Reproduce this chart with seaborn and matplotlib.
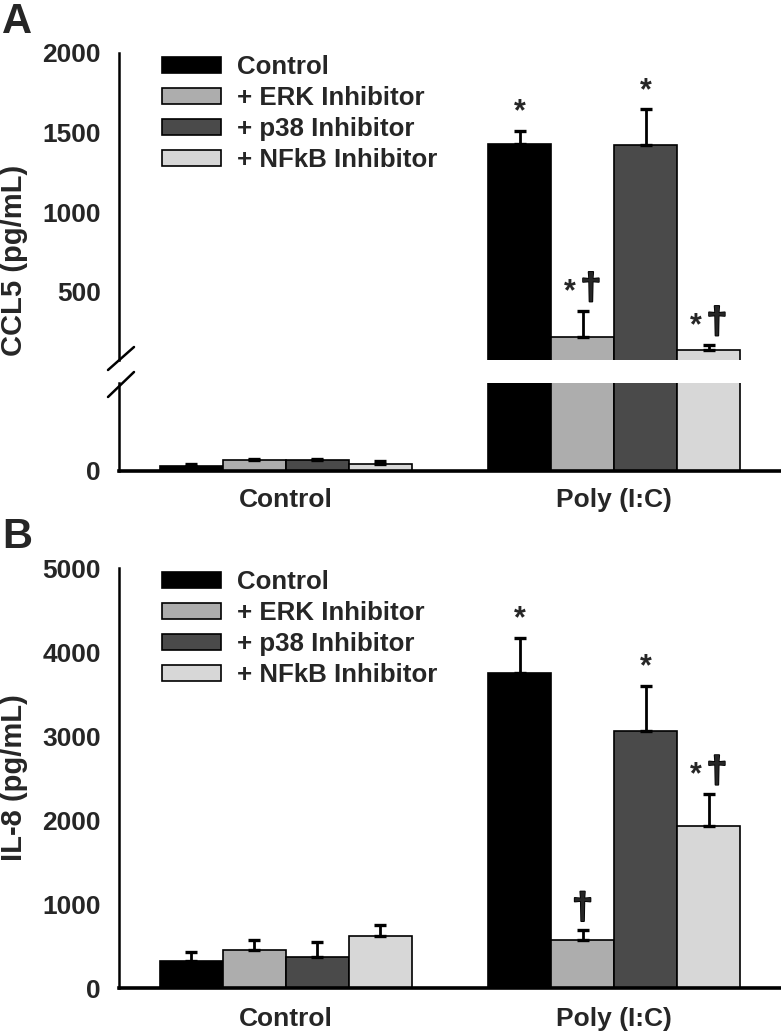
import matplotlib
matplotlib.use('Agg')
import matplotlib.pyplot as plt
import matplotlib.patheffects as pe
from matplotlib.patches import Patch
from matplotlib.lines import Line2D
import numpy as np
import pandas as pd
import seaborn as sns

# categories
groups = ['Control', 'Poly (I:C)']
treatments = ['Control', '+ ERK Inhibitor', '+ p38 Inhibitor', '+ NFkB Inhibitor']
colors = ['#000000', '#adadad', '#4a4a4a', '#d7d7d7']

# panel A - CCL5 (pg/mL), broken axis
ccl5_control = [6, 12.5, 12.5, 7.5]
ccl5_control_sem = [2, 1, 1, 3.5]
ccl5_poly = [1425, 213, 1420, 134]
ccl5_poly_sem = [85, 166, 225, 31]
# significance marks on Poly (I:C) bars: (star, dagger)
ccl5_marks = [(True, False), (True, True), (True, False), (True, True)]

# panel B - IL-8 (pg/mL)
il8_control = [318, 457, 373, 614]
il8_control_sem = [106, 115, 169, 140]
il8_poly = [3750, 569, 3057, 1927]
il8_poly_sem = [418, 116, 538, 382]
il8_marks = [(True, False), (False, True), (True, False), (True, True)]

sns.set_theme(style='white')
plt.rcParams['font.family'] = ['Liberation Sans', 'DejaVu Sans']
plt.rcParams['font.weight'] = 'bold'
plt.rcParams['axes.edgecolor'] = 'black'

W, H = 781, 1034
fig = plt.figure(figsize=(W / 100, H / 100), dpi=100)


def px_axes(left, top, right, bottom):
    # axes placed from pixel coordinates of the reference
    return fig.add_axes([left / W, 1 - bottom / H, (right - left) / W, (bottom - top) / H])


def make_df(ctrl, ctrl_sem, poly, poly_sem):
    rows = []
    for i, t in enumerate(treatments):
        rows.append({'group': groups[0], 'treatment': t, 'value': ctrl[i], 'sem': ctrl_sem[i]})
        rows.append({'group': groups[1], 'treatment': t, 'value': poly[i], 'sem': poly_sem[i]})
    return pd.DataFrame(rows)


def mark_bar(ax, x, top, star, dagger):
    both = star and dagger
    if star:
        ax.annotate('*', xy=(x, top), xytext=(-9.5 if both else 0, 7.5), textcoords='offset points',
                    ha='center', va='baseline', fontsize=22, annotation_clip=False)
    if dagger:
        ax.annotate('\u2020', xy=(x, top), xytext=(6 if both else 0, 8.5), textcoords='offset points',
                    ha='center', va='baseline', fontsize=27, annotation_clip=False,
                    path_effects=[pe.withStroke(linewidth=1.2, foreground='black')])


def draw_bars(ax, df, marks=None, xpad=11):
    sns.barplot(data=df, x='group', y='value', hue='treatment', order=groups,
                hue_order=treatments, palette=colors, width=0.767, edgecolor='black',
                linewidth=1.2, errorbar=None, legend=False, ax=ax)
    bars = list(ax.containers)
    for i, (cont, t) in enumerate(zip(bars, treatments)):
        sub = df[df.treatment == t].set_index('group').loc[groups]
        xs = [b.get_x() + b.get_width() / 2 for b in cont]
        ax.errorbar(xs, sub['value'], yerr=[np.zeros(len(xs)), sub['sem']], fmt='none',
                    ecolor='black', elinewidth=2.0, capsize=4.5, capthick=2.4, zorder=3)
        if marks:
            top = sub['value'].iloc[1] + sub['sem'].iloc[1]
            mark_bar(ax, xs[1], top, *marks[i])
    ax.set_xlim(-0.507, 1.505)
    ax.set_xlabel('')
    ax.set_ylabel('')
    sns.despine(ax=ax)
    ax.spines['left'].set_linewidth(1.8)
    ax.spines['bottom'].set_linewidth(2.6)
    ax.tick_params(axis='y', length=0, labelsize=19, pad=13)
    ax.tick_params(axis='x', length=0, labelsize=19, pad=xpad)


def add_legend(top_px):
    handles = [Patch(facecolor=c, edgecolor='black', linewidth=1.2) for c in colors]
    fig.legend(handles, treatments, loc='upper left', bbox_to_anchor=(162 / W, 1 - top_px / H),
               bbox_transform=fig.transFigure, frameon=False, fontsize=18.6, handlelength=2.3,
               handleheight=0.55, handletextpad=0.6, labelspacing=0.27, borderpad=0,
               borderaxespad=0)


# ---- panel A ----
df_a = make_df(ccl5_control, ccl5_control_sem, ccl5_poly, ccl5_poly_sem)
ax_top = px_axes(119, 53, 780, 360)
draw_bars(ax_top, df_a, ccl5_marks)
ax_top.set_ylim(70, 2000)
ax_top.set_yticks([500, 1000, 1500, 2000])
ax_top.set_xticks([])
ax_top.spines['bottom'].set_visible(False)

ax_low = px_axes(119, 383, 780, 471)
draw_bars(ax_low, df_a, xpad=12)
ax_low.set_ylim(0, 100)
ax_low.set_yticks([0])

# axis break marks
for y0, y1 in [(370, 347), (397, 372)]:
    fig.add_artist(Line2D([108 / W, 134 / W], [1 - y0 / H, 1 - y1 / H], color='black', lw=1.8))

fig.text(14 / W, 1 - 260 / H, 'CCL5 (pg/mL)', rotation=90, ha='center', va='center', fontsize=21)
fig.text(2 / W, 1 - 33 / H, 'A', fontsize=30, ha='left', va='baseline')
add_legend(55)

# ---- panel B ----
df_b = make_df(il8_control, il8_control_sem, il8_poly, il8_poly_sem)
ax_b = px_axes(119, 568, 780, 988)
draw_bars(ax_b, df_b, il8_marks, xpad=13.5)
ax_b.set_ylim(0, 5000)
ax_b.set_yticks([0, 1000, 2000, 3000, 4000, 5000])

fig.text(14 / W, 1 - 778 / H, 'IL-8 (pg/mL)', rotation=90, ha='center', va='center', fontsize=21)
fig.text(2 / W, 1 - 548 / H, 'B', fontsize=30, ha='left', va='baseline')
add_legend(570)

fig.savefig('out.png', dpi=100)
